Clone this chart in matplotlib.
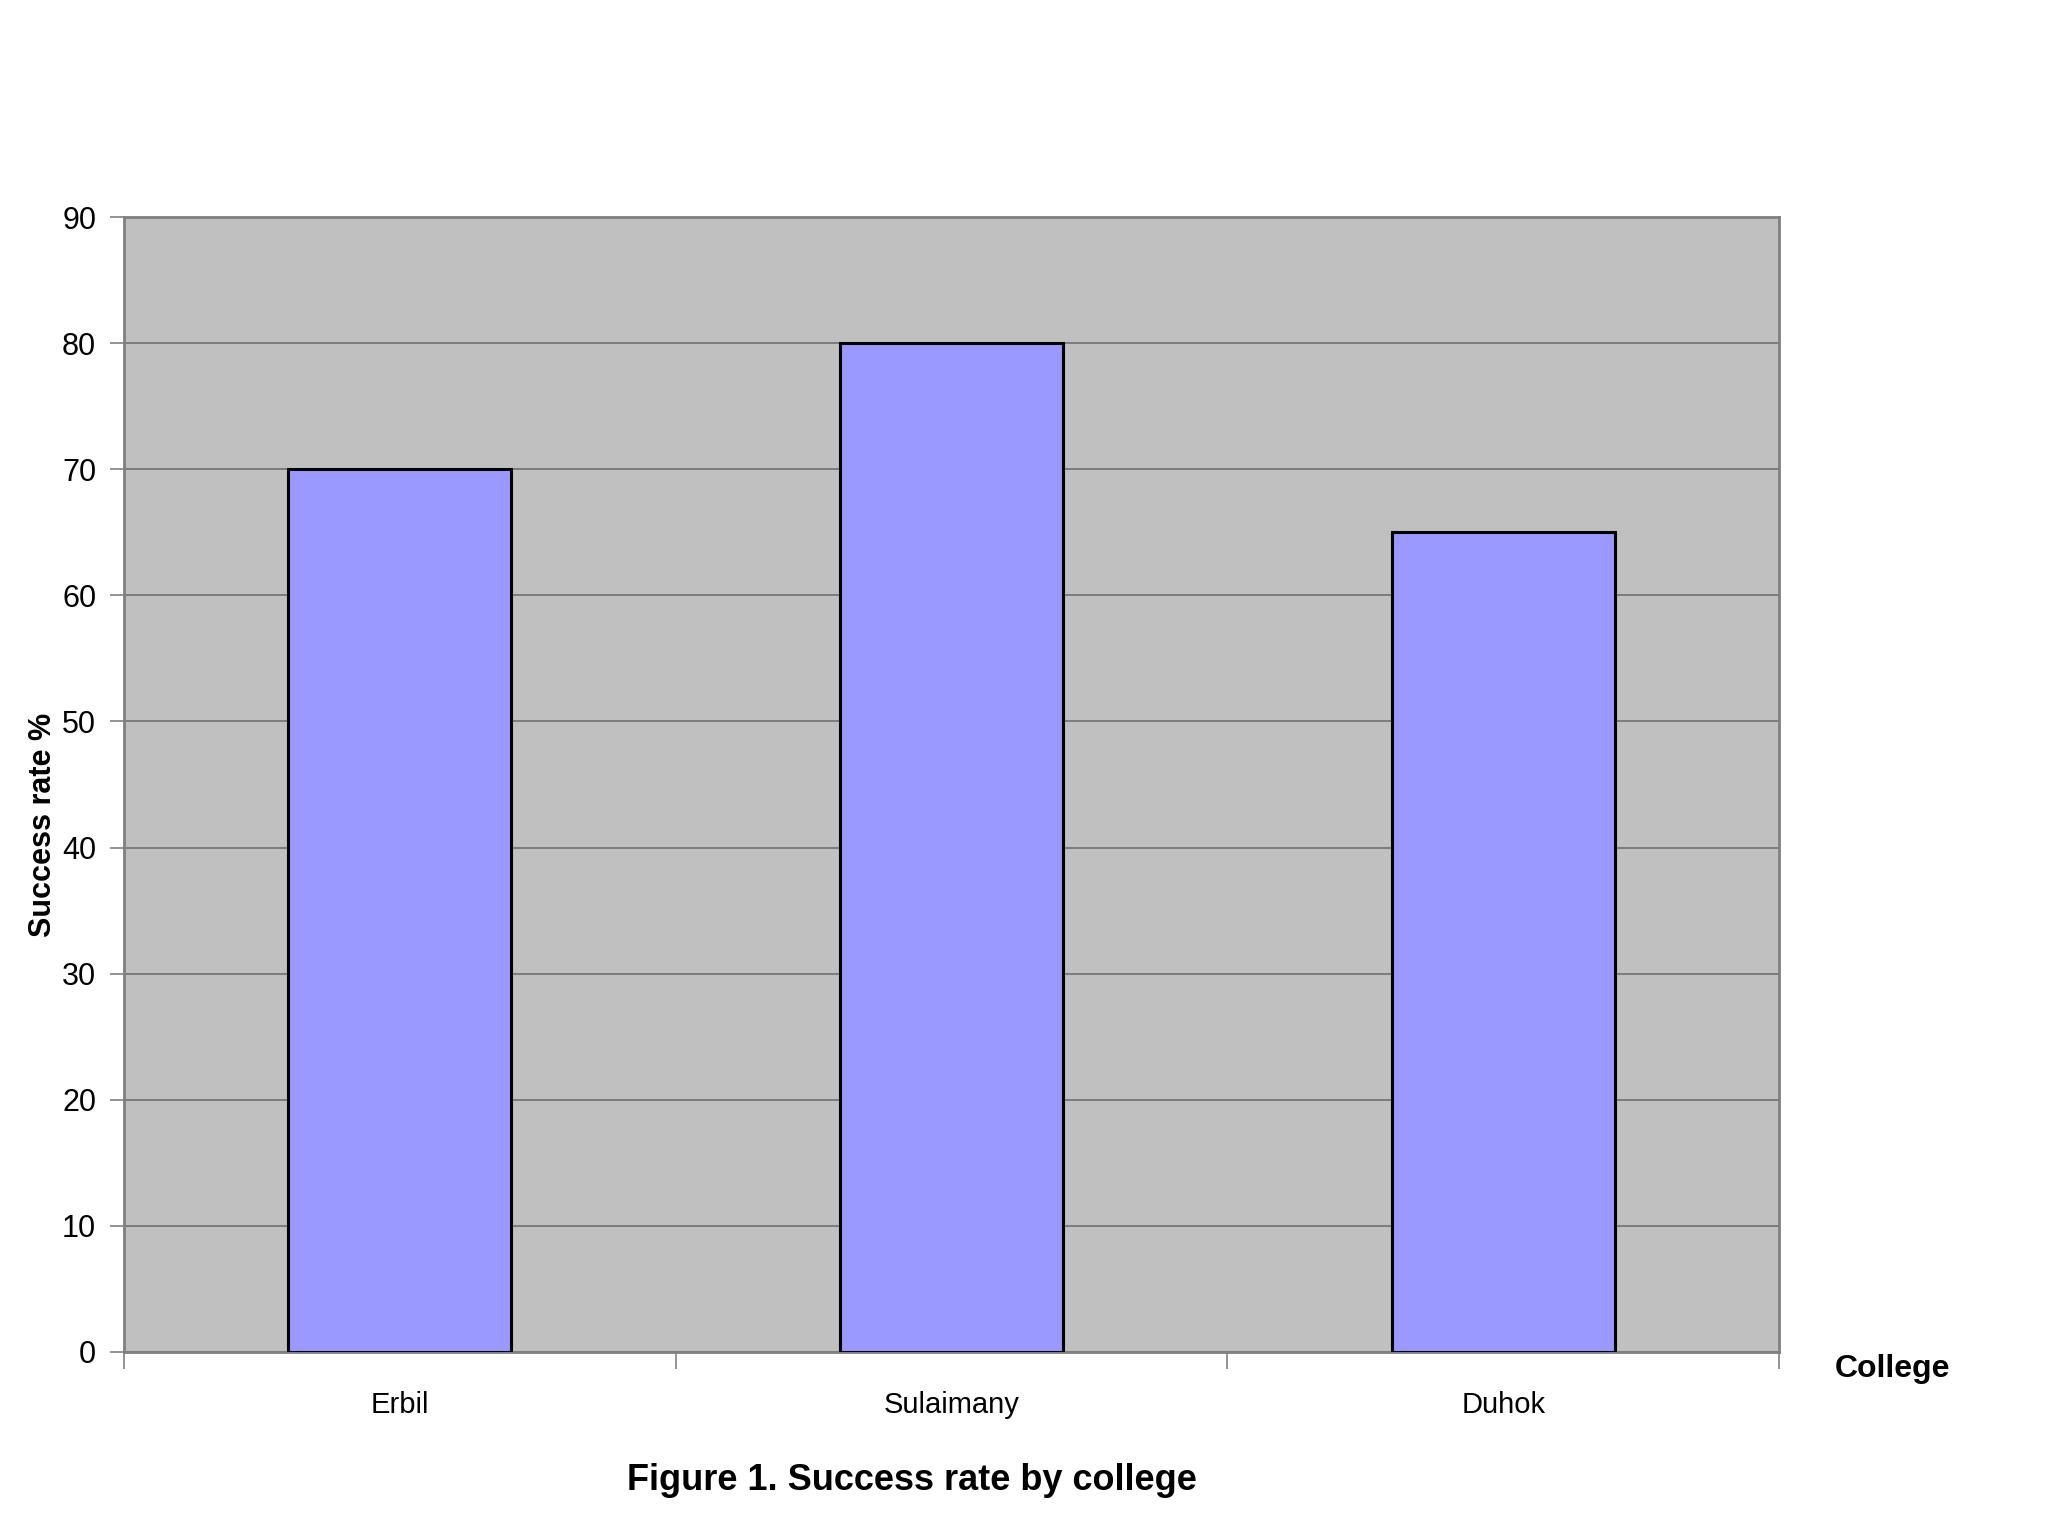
import matplotlib
matplotlib.use("Agg")
import matplotlib.pyplot as plt
from matplotlib import font_manager

colleges = ["Erbil", "Sulaimany", "Duhok"]
success_rate = [70, 80, 65]
yticks = [0, 10, 20, 30, 40, 50, 60, 70, 80, 90]

names = {f.name for f in font_manager.fontManager.ttflist}
fam = ["Liberation Sans Narrow", "Liberation Sans", "DejaVu Sans"]
fam = [f for f in fam if f in names] + ["DejaVu Sans"]
plt.rcParams['font.family'] = fam

fig = plt.figure(figsize=(20.48, 15.36), dpi=100)
ax = fig.add_axes([0.0605, 0.1198, 0.8082, 0.7389])
ax.set_facecolor("#C0C0C0")
x = list(range(len(colleges)))
ax.bar(x, success_rate, width=0.405, color="#9999FF", edgecolor="black", linewidth=2.2, zorder=3)
ax.set_xlim(-0.5, 2.5)
ax.set_ylim(0, 90)
ax.set_yticks(yticks)
ax.set_yticklabels([str(v) for v in yticks], fontsize=22)
ax.yaxis.grid(True, color="#707070", linewidth=1.2, zorder=1)
ax.set_xticks([-0.5, 0.5, 1.5, 2.5])
ax.set_xticklabels([])
ax.set_xticks(x, minor=True)
ax.set_xticklabels(colleges, minor=True, fontsize=21)
ax.tick_params(axis='x', which='minor', length=0, pad=28)
ax.tick_params(axis='x', which='major', length=12, color="#808080", width=1.2)
ax.tick_params(axis='y', length=10, color="#808080", width=1.2, pad=10)
for s in ax.spines.values():
    s.set_color("#808080")
    s.set_linewidth(2)

fig.text(43/2048, 1 - 825/1536, "Success rate %", rotation=90, ha="center", va="center",
         fontsize=22, fontweight="bold")
fig.text(1893/2048, 1 - 1369/1536, "College", ha="center", va="center",
         fontsize=23, fontweight="bold")
fig.text(912/2048, 1 - 1480/1536, "Figure 1. Success rate by college", ha="center", va="center",
         fontsize=26, fontweight="bold")

fig.savefig("out.png", dpi=100, facecolor="white")
